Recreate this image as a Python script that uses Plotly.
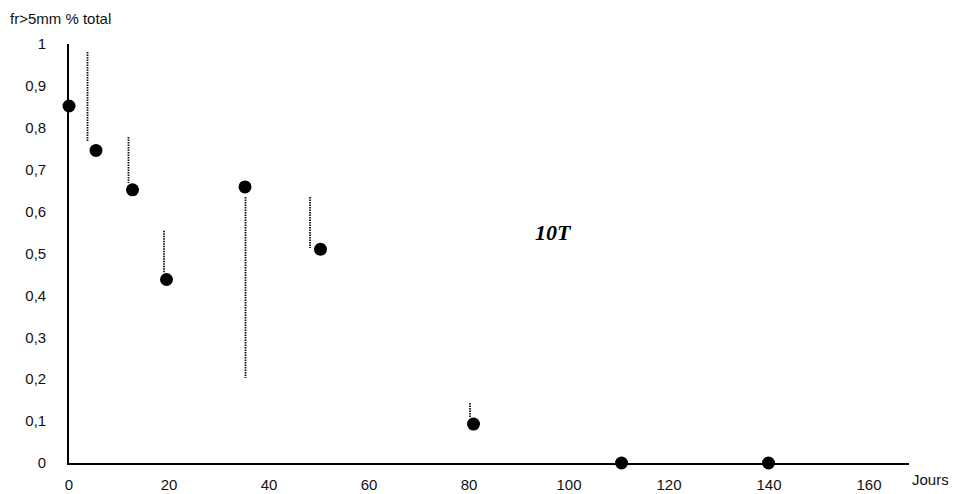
import plotly.graph_objects as go

# Data
days = [0, 5.4, 12.7, 19.5, 35.2, 50.3, 80.9, 110.5, 139.9]
frac = [0.852, 0.746, 0.652, 0.438, 0.659, 0.510, 0.093, 0.0, 0.0]

# dispersion bars (dotted), drawn slightly left of each point
err_x = [3.7, 11.9, 19.0, 35.3, 48.2, 80.2]
err_top = [0.981, 0.778, 0.554, 0.635, 0.635, 0.143]
err_bottom = [0.766, 0.668, 0.453, 0.203, 0.513, 0.107]

x_ticks = [0, 20, 40, 60, 80, 100, 120, 140, 160]
x_ticktext = ["0", "20", "40", "60", "80", "100", "120", "140", "160"]
y_ticks = [0, 0.1, 0.2, 0.3, 0.4, 0.5, 0.6, 0.7, 0.8, 0.9, 1.0]
y_ticktext = ["0", "0,1", "0,2", "0,3", "0,4", "0,5", "0,6", "0,7", "0,8", "0,9", "1"]

label_x = 96.8
label_y = 0.551
label_text = "10T"

seg_x, seg_y = [], []
for xv, t, b in zip(err_x, err_top, err_bottom):
    seg_x += [xv, xv, None]
    seg_y += [t, b, None]

fig = go.Figure()
fig.add_trace(go.Scatter(
    x=seg_x, y=seg_y, mode="lines",
    line=dict(color="#111111", width=1.8, dash="1.5px,1px"),
    hoverinfo="skip", showlegend=False, cliponaxis=False,
))
fig.add_trace(go.Scatter(
    x=days, y=frac, mode="markers",
    marker=dict(color="black", size=13),
    showlegend=False, cliponaxis=False,
))

fig.add_annotation(x=label_x, y=label_y, xref="x", yref="y", text=f"<b><i>{label_text}</i></b>",
                   showarrow=False, font=dict(family="Liberation Serif, Times New Roman, serif", size=22, color="black"))

fig.add_annotation(x=-0.0726, y=1.062, xref="paper", yref="paper", text="fr>5mm % total",
                   xanchor="left", yanchor="middle", showarrow=False,
                   font=dict(family="Liberation Sans, Arial, sans-serif", size=15, color="#111"))
fig.add_annotation(x=1.001, y=-0.04, xref="paper", yref="paper", text="Jours",
                   xanchor="left", yanchor="middle", showarrow=False,
                   font=dict(family="Liberation Sans, Arial, sans-serif", size=15, color="#111"))

fig.update_layout(
    width=955, height=494,
    margin=dict(l=69, r=46, t=44, b=31),
    paper_bgcolor="white", plot_bgcolor="white",
    font=dict(family="Liberation Sans, Arial, sans-serif", size=15, color="#111"),
    xaxis=dict(range=[0, 168], tickvals=x_ticks, ticktext=x_ticktext, automargin=False,
               showgrid=False, zeroline=False, showline=True, linecolor="black", linewidth=1.6,
               ticks="", ticklabelstandoff=7),
    yaxis=dict(range=[0, 1.0], tickvals=y_ticks, ticktext=y_ticktext, automargin=False,
               showgrid=False, zeroline=False, showline=True, linecolor="black", linewidth=1.6,
               ticks="", ticklabelstandoff=18),
)

fig.write_html("out.html")
